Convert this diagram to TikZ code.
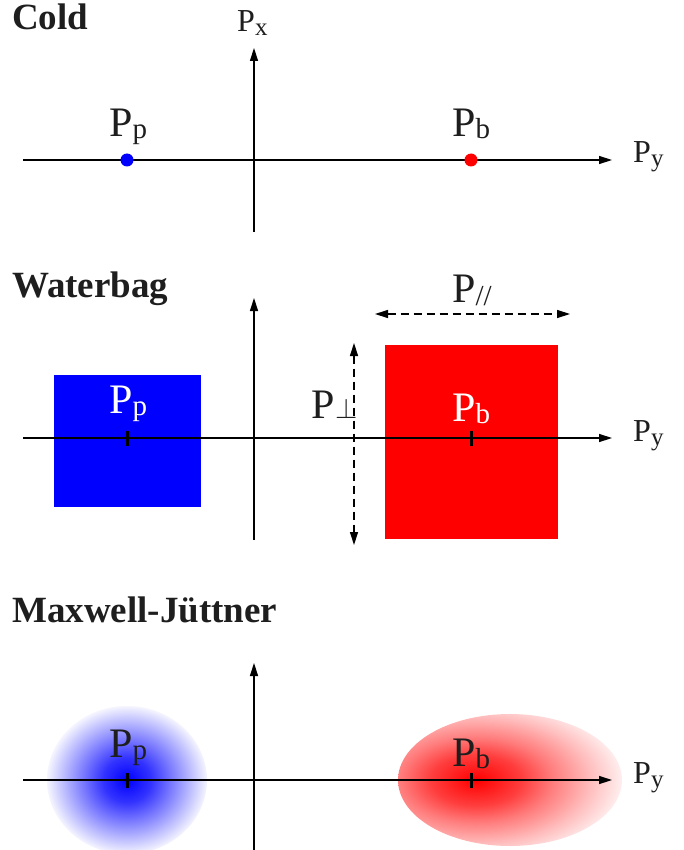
\documentclass[tikz,border=0pt]{standalone}
\usepackage{fontspec}
\setmainfont{Liberation Serif}
\usetikzlibrary{arrows.meta}
\definecolor{ink}{RGB}{30,30,30}
\pgfdeclareradialshading{blueglow}{\pgfpoint{0bp}{0bp}}{color(0bp)=(blue); color(7.5bp)=(blue!80); color(12.5bp)=(blue!58); color(19bp)=(blue!30); color(25bp)=(blue!4); color(50bp)=(white)}
\pgfdeclareradialshading{redglow}{\pgfpoint{0bp}{0bp}}{color(0bp)=(red); color(7.5bp)=(red!76); color(12.5bp)=(red!52); color(19bp)=(red!26); color(25bp)=(red!4); color(50bp)=(white)}
\newcommand{\bigP}[1]{P\raisebox{-2pt}{\fontsize{29}{29}\selectfont #1}}
\newcommand{\smallP}[1]{P\raisebox{-4pt}{\fontsize{25}{25}\selectfont #1}}
\tikzset{
  axisline/.style={line width=1.4pt, draw=black, -{Triangle[length=13pt,width=8pt]}},
  tickmark/.style={line width=3pt, draw=black},
  title/.style={font=\fontsize{37}{37}\selectfont\bfseries, text=ink, anchor=base west, inner sep=0pt},
  biglab/.style={font=\fontsize{42}{42}\selectfont, text=ink, anchor=base west, inner sep=0pt},
  smalllab/.style={font=\fontsize{32}{32}\selectfont, text=ink, anchor=base west, inner sep=0pt},
  dimline/.style={line width=1.3pt, dash pattern=on 8pt off 5pt, {Triangle[length=13pt,width=8pt]}-{Triangle[length=13pt,width=8pt]}},
}
\begin{document}
\begin{tikzpicture}[x=1pt,y=-1pt]
\useasboundingbox (0,0) rectangle (684,850);
% ---------------- Cold ----------------
\node[title] (tcold) at (12,30) {Cold};
\coordinate (h1s) at (23,160);
\coordinate (h1e) at (612,160);
\coordinate (v1s) at (254,232);
\coordinate (v1e) at (254,48);
\draw[axisline] (h1s) -- (h1e);
\draw[axisline] (v1s) -- (v1e);
\node[smalllab] (px1) at (237,32) {\smallP{x}};
\node[smalllab] (py1) at (633,163) {\smallP{y}};
\fill[blue] (127,160) circle (6.5) coordinate (pp1);
\fill[red] (471,160) circle (6.5) coordinate (pb1);
\node[biglab] (lpp1) at (109,137) {\bigP{p}};
\node[biglab] (lpb1) at (452,137) {\bigP{b}};
% ---------------- Waterbag ----------------
\node[title] (twb) at (12,297) {Waterbag};
\fill[blue] (54,375) rectangle (201,507);
\fill[red] (385,345) rectangle (558,539);
\coordinate (h2s) at (23,438);
\coordinate (h2e) at (612,438);
\coordinate (v2s) at (254,540);
\coordinate (v2e) at (254,298);
\draw[axisline] (h2s) -- (h2e);
\draw[axisline] (v2s) -- (v2e);
\coordinate (t2a) at (127,431); \coordinate (t2b) at (127,446);
\coordinate (t2c) at (471,431); \coordinate (t2d) at (471,446);
\draw[tickmark] (t2a) -- (t2b);
\draw[tickmark] (t2c) -- (t2d);
\node[biglab, text=white] (lpp2) at (109,413) {\bigP{p}};
\node[biglab, text=white] (lpb2) at (452,421) {\bigP{b}};
\node[smalllab] (py2) at (633,441) {\smallP{y}};
\coordinate (dpa) at (375,314); \coordinate (dpb) at (570,314);
\draw[dimline] (dpa) -- (dpb);
\coordinate (dqa) at (354,343); \coordinate (dqb) at (354,545);
\draw[dimline] (dqa) -- (dqb);
\node[biglab] (lpar) at (452,302) {P\raisebox{-3pt}{\fontsize{29}{29}\selectfont //}};
\node[biglab] (lperp) at (311,418) {P\kern0.5pt\scalebox{1.15}{$\perp$}};
% ---------------- Maxwell-Juttner ----------------
\node[title] (tmj) at (12,622) {Maxwell-Jüttner};
\shade[shading=blueglow] (127,780) ellipse [x radius=80, y radius=74];
\begin{scope}
  \clip (510,780) ellipse [x radius=112, y radius=66];
  \shade[shading=redglow] (476,780) ellipse [x radius=150, y radius=84];
\end{scope}
\coordinate (h3s) at (23,780);
\coordinate (h3e) at (612,780);
\coordinate (v3s) at (254,850);
\coordinate (v3e) at (254,663);
\draw[axisline] (h3s) -- (h3e);
\draw[axisline] (v3s) -- (v3e);
\coordinate (t3a) at (127,773); \coordinate (t3b) at (127,788);
\coordinate (t3c) at (471,773); \coordinate (t3d) at (471,788);
\draw[tickmark] (t3a) -- (t3b);
\draw[tickmark] (t3c) -- (t3d);
\node[biglab] (lpp3) at (109,757) {\bigP{p}};
\node[biglab] (lpb3) at (452,766) {\bigP{b}};
\node[smalllab] (py3) at (633,783) {\smallP{y}};
\end{tikzpicture}
\end{document}
